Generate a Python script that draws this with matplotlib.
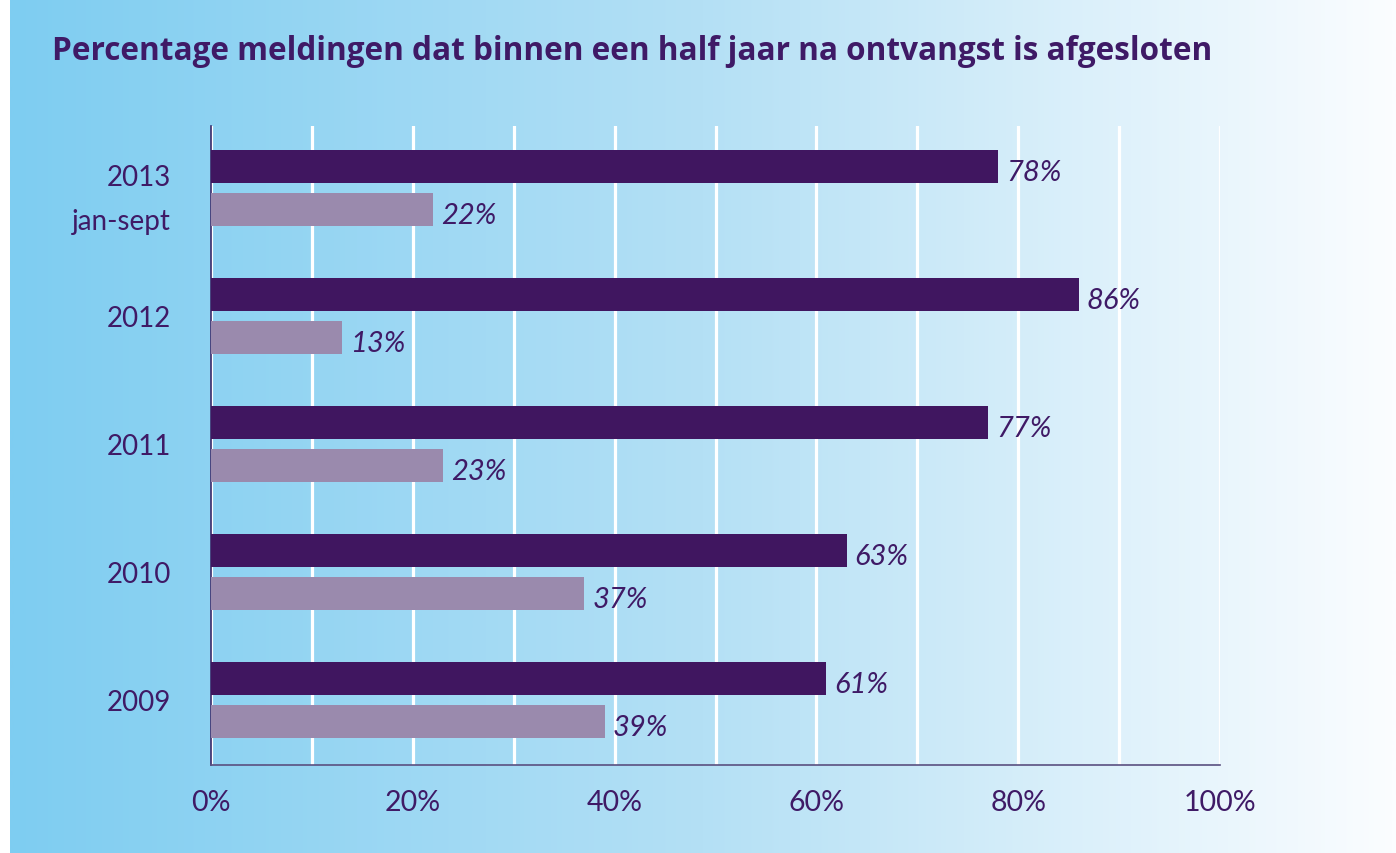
"""Percentage meldingen afgesloten binnen een half jaar - horizontale staven."""

import matplotlib

matplotlib.use("Agg")
import matplotlib.pyplot as plt
import numpy as np
from matplotlib.colors import LinearSegmentedColormap

INK = "#3f1a66"
DARK = "#401660"
LIGHT = "#9a8aad"
BG_LEFT = "#7ecdf1"
BG_MID = "#b4e0f5"
BG_RIGHT = "#fbfdff"

years = ["2009", "2010", "2011", "2012", "2013\njan-sept"]
within_half_year = [61, 63, 77, 86, 78]
after_half_year = [39, 37, 23, 13, 22]
x_ticks = [0, 20, 40, 60, 80, 100]

plt.rcParams["font.family"] = ["Lato", "DejaVu Sans"]

fig = plt.figure(figsize=(13.96, 8.54), dpi=100)
fig.patch.set_facecolor("white")

# achtergrond: horizontale kleurverloop, smalle witte rand links
bg = fig.add_axes([10 / 1396, 0, 1 - 10 / 1396, 1], zorder=0)
cmap = LinearSegmentedColormap.from_list("bg", [BG_LEFT, BG_MID, BG_RIGHT])
bg.imshow(np.linspace(0, 1, 512)[None, :], cmap=cmap, aspect="auto",
          extent=(0, 1, 0, 1))
bg.set_axis_off()

ax = fig.add_axes([211 / 1396, 88 / 854, 1009 / 1396, 639 / 854], zorder=1)
ax.patch.set_alpha(0)

y = np.arange(len(years))
h = 0.258
off = 0.168
ax.barh(y + off, within_half_year, height=h, color=DARK, zorder=3)
ax.barh(y - off, after_half_year, height=h, color=LIGHT, zorder=3)

for yi, v in zip(y + off, within_half_year):
    ax.text(v + 0.8, yi - 0.04, f"{v}%", color=INK, fontsize=21,
            style="italic", va="center", ha="left", zorder=4)
for yi, v in zip(y - off, after_half_year):
    ax.text(v + 0.8, yi - 0.04, f"{v}%", color=INK, fontsize=21,
            style="italic", va="center", ha="left", zorder=4)

ax.set_xlim(0, 100)
ax.set_ylim(-0.508, 4.484)
ax.set_xticks(x_ticks, [f"{t}%" for t in x_ticks])
ax.set_xticks(np.arange(10, 101, 10), minor=True)
ax.set_yticks(y, years)
ax.grid(True, axis="x", which="both", color="white", linewidth=2.3, zorder=1)
ax.tick_params(axis="both", which="both", length=0, colors=INK, labelsize=20)
ax.tick_params(axis="x", labelsize=20.5, pad=17)
ax.tick_params(axis="y", pad=29)
for lbl in ax.get_yticklabels():
    lbl.set_linespacing(1.85)

for side in ("top", "right"):
    ax.spines[side].set_visible(False)
ax.spines["left"].set_color("#3a2a6a")
ax.spines["left"].set_linewidth(1.2)
ax.spines["bottom"].set_color("#5a5080")
ax.spines["bottom"].set_linewidth(1.2)

fig.text(52 / 1396, 1 - 52 / 854,
         "Percentage meldingen dat binnen een half jaar na ontvangst is afgesloten",
         color=INK, fontsize=22.7, fontweight="bold", family=["Open Sans", "DejaVu Sans"],
         ha="left", va="center")

fig.savefig("out.png", dpi=100)
